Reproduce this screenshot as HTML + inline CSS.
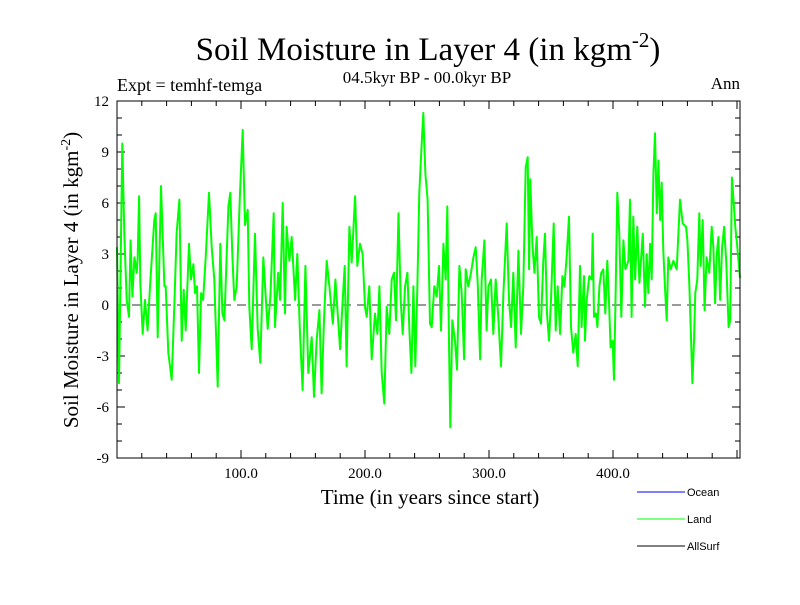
<!DOCTYPE html>
<html><head><meta charset="utf-8"><style>
body{margin:0;background:#fff}
svg text{font-family:"Liberation Serif",serif}
svg text.sans{font-family:"Liberation Sans",sans-serif}
</style></head><body>
<svg id="chart" width="800" height="600" xmlns="http://www.w3.org/2000/svg">
<rect width="800" height="600" fill="#fff"/>
<text x="428" y="60" font-size="33" text-anchor="middle">Soil Moisture in Layer 4 (in kgm<tspan dy="-13" font-size="21">-2</tspan><tspan dy="13">)</tspan></text>
<text x="117" y="91" font-size="18">Expt = temhf-temga</text>
<text x="427" y="83" font-size="17" text-anchor="middle">04.5kyr BP - 00.0kyr BP</text>
<text x="740" y="89" font-size="17" text-anchor="end">Ann</text>
<text transform="translate(78,280) rotate(-90)" font-size="21" text-anchor="middle">Soil Moisture in Layer 4 (in kgm<tspan dy="-8" font-size="14">-2</tspan><tspan dy="8">)</tspan></text>
<text x="430" y="504" font-size="21" text-anchor="middle">Time (in years since start)</text>
<g id="axes"></g>
<g id="series"></g>
<rect x="117" y="101" width="623" height="357" fill="none" stroke="#000" stroke-width="1"/>
<g>
<line x1="637" y1="492" x2="685" y2="492" stroke="#0000ff"/>
<text class="sans" x="687" y="496" font-size="11">Ocean</text>
<line x1="637" y1="519" x2="685" y2="519" stroke="#00ff00"/>
<text class="sans" x="687" y="523" font-size="11">Land</text>
<line x1="637" y1="546" x2="685" y2="546" stroke="#000"/>
<text class="sans" x="687" y="550" font-size="11">AllSurf</text>
</g>
</svg>
<script>
const years=[0,1.6,4.3,5.9,7.8,9.7,11,12.4,14,15.9,16.7,17.8,18.8,20.7,22.6,24.7,26.6,30.1,31.2,32.8,35.5,38.2,39.3,41.4,44.1,46.3,48.1,50.3,52.2,53.8,55.4,58.1,59.7,61.6,62.9,64.5,66.1,67.8,69.4,71.5,74.2,76.4,78.5,81.2,83.3,85,86.6,89.8,91.4,93,94.6,96.5,99.2,101.4,103.2,105.4,106.7,108.6,111.3,113.5,115.6,118,121.5,123.7,126.4,
127.4,130,131.5,133.6,135.5,136.8,139,140.9,143.6,145.4,147.6,149.7,151.9,154.3,157,158.9,161,163.2,165,167,169.1,171.3,174,176.1,178,179.9,182,183.6,185.2,187.4,189.3,192,193.8,196,198.1,200,201.4,203.5,205.4,208.1,210,211.6,213.5,215.6,217.5,219.6,221.5,223.4,225,227,228.8,230.4,232.3,234.2,235.8,237.4,239,240.6,242.2,243.8,245.7,247,248.7,
250.5,252.4,253.8,255.9,257.8,259.7,261.3,263.2,265.1,266.4,267.8,268.8,270.4,272.6,274.2,276.1,278,279.9,281.2,283.3,285.5,287.4,289.3,290.9,292.8,294.1,296.3,298.1,299.5,301.6,303.5,305.4,307.5,309.7,311.6,314.3,316.1,317.8,319.6,321.5,323.7,325.8,327.7,329.6,331.2,332.3,333.3,335,336.6,338.5,340.3,341.9,343.8,345.2,346.8,348.4,350,352.2,353.8,355.4,357.3,359.2,360.8,362.6,364.5,366.1,368,369.9,371.5,
373.4,374.7,376.6,377.4,378.8,380.9,382.8,383.6,384.7,386.3,387.4,389,390.6,392.2,393.8,395.4,396.5,398.1,399.7,400.8,401.9,403.5,405.1,406.7,408.4,410,412.4,413.7,415,416.4,417.8,419.6,421.3,424,425.8,427.2,428.5,429.9,431.2,432.6,433.9,435.3,436.6,438,439.3,440.6,442,443.3,444.6,446.5,448.7,451.4,454,456.2,458.9,460,461.6,463,464,465.3,466.4,468,469.6,470.7,472.3,473.9,475.5,477.7,479.6,481,482.3,483.7,485,486.4,488,489.6,491.3,493.2,494.5,495.9,497.2,498.6,500,502.4];
const land=[3.4,-4.6,9.5,4.2,0.3,-0.7,3.8,0.5,2.8,1.9,2.8,6.4,1.3,-1.7,0.3,-1.5,1.1,5,5.4,-1.9,7,1.1,1.1,-2.8,-4.4,0.1,4.2,6.2,-2.1,0.9,-1.5,3.6,1.5,2.4,0.7,1.1,-4,0.7,0.3,2.8,6.6,3.4,1.5,-4.8,3.6,-0.5,-0.9,5.8,6.6,3,0.3,1.1,6.6,10.3,4.7,5.6,-0.1,-2.6,4.2,-1.4,-3.4,2.8,-1.4,0.5,5.4,
-1.3,1.9,0.3,6,-0.5,4.6,2.6,4,0.3,3,-1.7,-5,2.3,-4,-1.9,-5.4,-2.1,-0.3,-5.2,-0.7,2.6,1.1,-1.1,1.5,-0.5,-2.6,0.3,2.3,-3.6,4.6,2.5,6.4,2.3,3.6,3,-0.1,-0.7,1.1,-3.2,-0.5,-1.7,1.1,-4,-5.8,-0.1,-1.7,1.5,1.9,-0.9,5.4,0.3,-1.7,1.1,1.9,-1.5,-4,1.1,-3.6,0.9,6.6,9.5,11.3,7.7,
6.2,-1.1,-1.3,1.1,0.5,2.3,-1.5,3.6,1.5,5.8,-2.6,-7.2,-0.9,-2.1,-3.8,2.3,0.7,-3.2,2.1,1.1,1.9,2.8,3.4,1.3,-3.2,1.5,3.8,-1.5,1.1,1.5,-1.7,1.5,-0.7,-3.6,0.7,4.8,0.3,-1.3,1.9,-2.5,3.2,-1.7,1.1,8.1,8.7,2.1,7.4,3.6,1.9,4,-0.7,-1.1,2.6,4.2,-0.5,-2.1,0.3,4.8,-1.5,1.1,-1.7,1.7,1.1,2.8,5.2,-1.3,-2.8,-1.7,-3.6,
2.3,-1.3,1.7,-2.1,0.3,1.7,1.5,4.2,-0.7,-0.5,-1.3,1.1,1.9,2.1,-0.5,2.6,0.7,-2.5,-2.1,-4.4,-0.1,6.6,4.2,-0.7,3.8,2.1,2.6,6.2,-0.7,5.2,1.5,4.6,1.3,4.2,-0.1,3,0.7,3.6,1.5,7.7,10.1,5.4,8.5,5,7.2,3.2,0.9,-0.9,2.8,2.1,2.6,2.1,6.2,4.8,4.6,3.8,1.1,-2.1,-4.6,-2.1,0.7,1.5,5.4,2.3,5,-0.3,2.8,1.9,4.6,3.4,0.1,3,4,0.3,3.4,4.6,2.6,-1.3,-0.9,7.5,6.2,4.6,3.6,1.6];
const yTicks=[-9,-6,-3,0,3,6,9,12];
const xTicks=[100,200,300,400];
const xLabels=["100.0","200.0","300.0","400.0"];

const NS="http://www.w3.org/2000/svg";
const X0=117,X1=740,Y0=101,Y1=458,XMAX=(740-117)/1.24;
function sx(v){return X0+v*1.24;}
function sy(v){return Y1-(v+9)*(Y1-Y0)/21;}
function mk(tag,attrs,parent){const e=document.createElementNS(NS,tag);for(const k in attrs)e.setAttribute(k,attrs[k]);parent.appendChild(e);return e;}
const axes=document.getElementById('axes');
for(let v=-9;v<=12;v++){
  const y=sy(v),len=(v%3===0)?8:5;
  const t1=mk('line',{x1:X0,y1:y,x2:X0+len,y2:y,stroke:'#000'},axes);
  
  
  const t2=mk('line',{x1:X1,y1:y,x2:X1-len,y2:y,stroke:'#000'},axes);
  
  
}
yTicks.forEach(v=>{
  const t=mk('text',{x:X0-8,y:sy(v)+5,'font-size':15,'text-anchor':'end'},axes);
  t.textContent=String(v);
  
  
});
for(let v=20;v<XMAX;v+=20){
  const x=sx(v),len=(v%100===0)?8:5;
  const a=mk('line',{x1:x,y1:Y1,x2:x,y2:Y1-len,stroke:'#000'},axes);
  
  
  const b=mk('line',{x1:x,y1:Y0,x2:x,y2:Y0+len,stroke:'#000'},axes);
  
  
}
xTicks.forEach((v,i)=>{
  const t=mk('text',{x:sx(v),y:Y1+20,'font-size':15,'text-anchor':'middle'},axes);
  t.textContent=xLabels[i];
  
  
});
const zero=mk('line',{x1:X0,y1:sy(0),x2:X1,y2:sy(0),stroke:'#333','stroke-dasharray':'9,6'},axes);


const pts=years.map((yr,i)=>sx(Math.min(yr,XMAX)).toFixed(1)+','+sy(land[i]).toFixed(1)).join(' ');
const line=mk('polyline',{points:pts,fill:'none',stroke:'#00ff00','stroke-width':2,'stroke-linejoin':'round'},document.getElementById('series'));


</script>
</body></html>
